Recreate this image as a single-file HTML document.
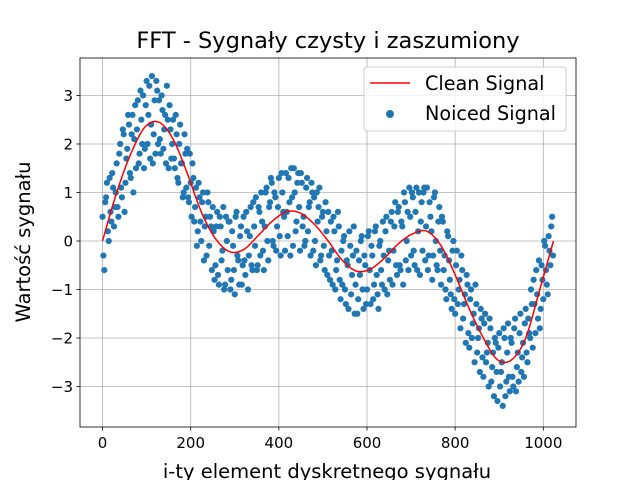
<!DOCTYPE html>
<html><head><meta charset="utf-8"><style>
body{margin:0;background:#fff}
text{font-family:"DejaVu Sans","Liberation Sans",sans-serif;fill:#000}
</style></head><body>
<svg id="chart" width="640" height="480" xmlns="http://www.w3.org/2000/svg">
<rect width="640" height="480" fill="#fff"/>
<g id="grid"></g>
<g id="scatter"></g>
<path id="clean" fill="none" stroke="#ff0000" stroke-width="1.5"/>
<rect x="80" y="58" width="496" height="369" fill="none" stroke="#000" stroke-width="0.8"/>
<g id="ticks"></g>
<text x="328" y="48" font-size="22.5" text-anchor="middle">FFT - Sygnały czysty i zaszumiony</text>
<text x="327" y="478" font-size="19.5" text-anchor="middle">i-ty element dyskretnego sygnału</text>
<text transform="translate(30,242) rotate(-90)" font-size="19.5" text-anchor="middle">Wartość sygnału</text>
<g>
<rect x="364" y="67" width="202" height="64" rx="3" fill="#fff" fill-opacity="0.8" stroke="#ccc"/>
<line x1="370" y1="83" x2="410" y2="83" stroke="#ff0000" stroke-width="1.5"/>
<text x="425" y="90" font-size="19.2">Clean Signal</text>
<circle cx="390" cy="114" r="4" fill="#1f77b4"/>
<text x="425" y="120" font-size="19.2">Noiced Signal</text>
</g>
</svg>
<script>
const xTicks=[0,200,400,600,800,1000];
const yTicks=[-3,-2,-1,0,1,2,3];
const cleanIdx=[0,32,64,96,128,160,192,224,256,288,320,352,384,416,448,480,512,544,576,608,640,672,704,736,768,800,832,864,896,928,960,992,1023];
const cleanVals=[0,1.0,1.8,2.35,2.45,2.1,1.4,0.6,0.05,-0.22,-0.18,0.1,0.4,0.6,0.58,0.35,0.0,-0.4,-0.62,-0.58,-0.35,-0.05,0.15,0.2,-0.1,-0.7,-1.4,-2.0,-2.45,-2.45,-2.0,-1.0,0.0];
const noisyStep=4;
const noisyVals=[0.5,-0.6,0.9,0.2,1.3,0.4,1.1,0.7,
1.6,0.5,2.0,0.9,2.2,1.2,1.9,2.4,
1.3,2.6,2.1,1.5,2.9,1.8,2.5,3.0,
1.9,3.3,2.6,1.7,3.4,2.2,1.8,3.1,
2.9,1.8,2.7,2.3,1.6,2.5,2.8,1.7,
2.5,1.5,2.2,1.2,2.4,1.6,1.0,1.8,
1.9,0.8,1.2,1.6,0.4,1.1,0.2,0.9,
0.0,1.0,0.3,-0.3,0.8,0.5,-0.6,0.2,
-0.5,0.6,-0.9,0.3,-0.2,-1.0,0.5,-0.6,
0.4,-0.8,-0.1,-1.1,0.6,-0.4,0.1,-0.9,
0.5,-0.7,0.2,-0.3,0.7,-0.6,0.3,0.9,
-0.5,0.6,1.0,-0.2,0.3,1.1,-0.4,0.8,
1.2,-0.1,0.9,0.3,1.3,-0.3,1.0,0.5,
1.4,0.1,0.8,1.5,-0.1,1.0,0.4,1.4,
-0.2,1.2,0.5,0.0,1.3,0.7,-0.3,1.0,
0.9,-0.5,0.4,1.1,-0.3,0.6,-0.6,0.2,
0.6,-0.8,-0.2,0.5,-1.0,-0.4,0.3,-1.2,
-0.9,0.1,-1.3,-0.5,0.2,-1.1,-0.3,-1.5,
-0.2,-1.2,-0.7,0.1,-1.4,-0.5,-1.0,0.2,
-1.3,-0.3,-0.9,0.3,-1.1,-0.1,-0.6,0.4,
-1.0,0.5,-0.4,-0.8,0.6,-0.2,0.8,-0.7,
0.7,-0.6,0.3,1.0,-0.4,0.6,1.1,-0.3,
0.9,-0.5,1.1,0.2,-0.7,0.8,1.0,-0.4,
1.1,-0.3,0.5,-0.8,0.9,0.0,-0.6,0.7,
-0.9,0.4,-0.3,-1.2,0.1,-0.8,-1.4,0.0,
-1.5,-0.2,-1.0,-1.8,-0.6,-1.3,-2.1,-0.9,
-2.2,-1.0,-1.7,-2.5,-1.3,-2.0,-2.7,-1.6,
-2.8,-1.5,-2.3,-3.0,-1.8,-2.6,-3.2,-2.1,
-3.3,-1.9,-2.7,-3.4,-2.0,-2.9,-1.7,-3.1,
-2.1,-3.0,-1.6,-2.6,-2.9,-1.5,-2.4,-2.8,
-1.4,-2.5,-1.9,-1.0,-2.2,-1.3,-0.6,-1.6,
-1.8,-0.5,-1.2,-0.1,-0.9,0.1,-0.5,0.5];
const noisyOffset2=2;
const noisyVals2=[-0.3,0.8,1.2,0.0,0.6,1.4,0.3,1.0,
0.7,1.8,1.1,2.3,0.6,1.7,2.6,1.4,
2.2,1.0,2.8,2.3,1.6,3.1,2.0,1.5,
2.8,2.0,3.2,2.4,1.6,2.9,3.3,2.0,
2.1,3.0,1.9,2.6,3.2,1.5,2.3,2.0,
1.7,2.6,1.3,2.0,1.6,0.9,2.2,1.1,
0.9,1.8,0.5,1.3,0.7,-0.1,1.2,0.4,
0.8,-0.4,0.5,1.0,-0.1,0.3,0.7,-0.8,
0.3,-0.7,0.5,-0.4,0.7,-0.9,0.0,0.4,
-1.0,0.2,-0.6,0.5,-0.3,-0.9,0.3,-0.5,
-0.4,0.6,-1.0,0.1,-0.5,0.8,-0.1,-0.6,
0.7,-0.3,0.4,-0.6,1.0,0.0,0.7,1.3,
0.0,1.0,-0.2,0.7,0.1,1.4,0.6,-0.2,
0.6,1.3,-0.3,0.9,1.5,0.2,1.2,0.7,
1.4,0.3,-0.1,1.1,0.2,0.8,1.2,-0.2,
0.0,1.0,0.7,-0.4,0.5,-0.1,0.8,-0.7,
-0.3,0.4,-0.9,0.2,-0.6,0.6,-0.8,-0.2,
0.0,-1.0,-0.4,-1.4,-0.1,-0.7,0.3,-0.9,
-1.5,-0.4,0.0,-1.0,-0.3,-1.3,0.1,-0.6,
-0.1,-1.2,0.2,-0.7,-1.4,0.0,-0.9,-0.3,
0.2,-1.1,-0.2,0.4,-0.9,0.3,-0.5,0.6,
-0.5,0.4,-0.9,0.8,0.0,-0.6,0.5,1.0,
-0.2,0.6,-0.6,1.0,0.4,-0.2,1.1,0.3,
-0.6,0.8,0.2,-0.3,1.0,-0.5,0.4,-0.2,
0.5,-0.6,-1.0,0.2,-0.4,-1.1,-0.2,-1.2,
-0.5,-1.3,-0.8,-0.3,-1.6,-1.1,-0.7,-1.9,
-1.2,-2.0,-1.5,-0.9,-2.3,-1.8,-1.4,-2.4,
-1.7,-2.5,-2.1,-1.6,-2.9,-2.3,-2.0,-2.7,
-2.2,-3.0,-2.5,-1.8,-3.2,-2.3,-2.8,-2.0,
-2.8,-1.8,-3.1,-2.3,-1.9,-2.7,-2.1,-1.7,
-2.3,-1.6,-2.0,-1.3,-0.8,-1.9,-1.1,-0.4,
-1.4,-0.8,0.0,-0.6,-1.1,-0.2,0.3,-0.3];

const NS='http://www.w3.org/2000/svg';
const X0=80,X1=576,Y0=58,Y1=427,xmin=-51.15,xmax=1074.15,ymin=-3.835,ymax=3.773;
function sx(v){return X0+(v-xmin)/(xmax-xmin)*(X1-X0);}
function sy(v){return Y1-(v-ymin)/(ymax-ymin)*(Y1-Y0);}
function mk(tag,a,parent){const e=document.createElementNS(NS,tag);for(const k in a)e.setAttribute(k,a[k]);parent.appendChild(e);return e;}
const grid=document.getElementById('grid'),ticks=document.getElementById('ticks');
xTicks.forEach(t=>{const x=sx(t);
 const g=mk('line',{x1:x,x2:x,y1:Y0,y2:Y1,stroke:'#b0b0b0','stroke-width':0.8},grid);
 
 
 const tk=mk('line',{x1:x,x2:x,y1:Y1,y2:Y1+3.5,stroke:'#000','stroke-width':0.8},ticks);
 
 
 const lb=mk('text',{x:x,y:Y1+21,'font-size':15,'text-anchor':'middle'},ticks);lb.textContent=t;
 
 
});
yTicks.forEach(t=>{const y=sy(t);
 const g=mk('line',{x1:X0,x2:X1,y1:y,y2:y,stroke:'#b0b0b0','stroke-width':0.8},grid);
 
 
 const tk=mk('line',{x1:X0-3.5,x2:X0,y1:y,y2:y,stroke:'#000','stroke-width':0.8},ticks);
 
 
 const lb=mk('text',{x:X0-7,y:y+5.5,'font-size':15,'text-anchor':'end'},ticks);lb.textContent=(t<0?'\u2212'+(-t):t);
 
 
});
const sc=document.getElementById('scatter');
noisyVals.forEach((v,i)=>{
 const c=mk('circle',{cx:sx(i*noisyStep),cy:sy(v),r:3.1,fill:'#1f77b4'},sc);
 
 
});
noisyVals2.forEach((v,i)=>{
 const c=mk('circle',{cx:sx(i*noisyStep+noisyOffset2),cy:sy(v),r:3.1,fill:'#1f77b4'},sc);
 
 
});
const P=cleanIdx.map((t,i)=>[sx(t),sy(cleanVals[i])]);
let d='M'+P[0][0].toFixed(1)+','+P[0][1].toFixed(1);
for(let i=0;i<P.length-1;i++){
 const p0=P[Math.max(0,i-1)],p1=P[i],p2=P[i+1],p3=P[Math.min(P.length-1,i+2)];
 const c1=[p1[0]+(p2[0]-p0[0])/6,p1[1]+(p2[1]-p0[1])/6];
 const c2=[p2[0]-(p3[0]-p1[0])/6,p2[1]-(p3[1]-p1[1])/6];
 d+='C'+c1[0].toFixed(1)+','+c1[1].toFixed(1)+' '+c2[0].toFixed(1)+','+c2[1].toFixed(1)+' '+p2[0].toFixed(1)+','+p2[1].toFixed(1);
}
document.getElementById('clean').setAttribute('d',d);
</script>
</body></html>
